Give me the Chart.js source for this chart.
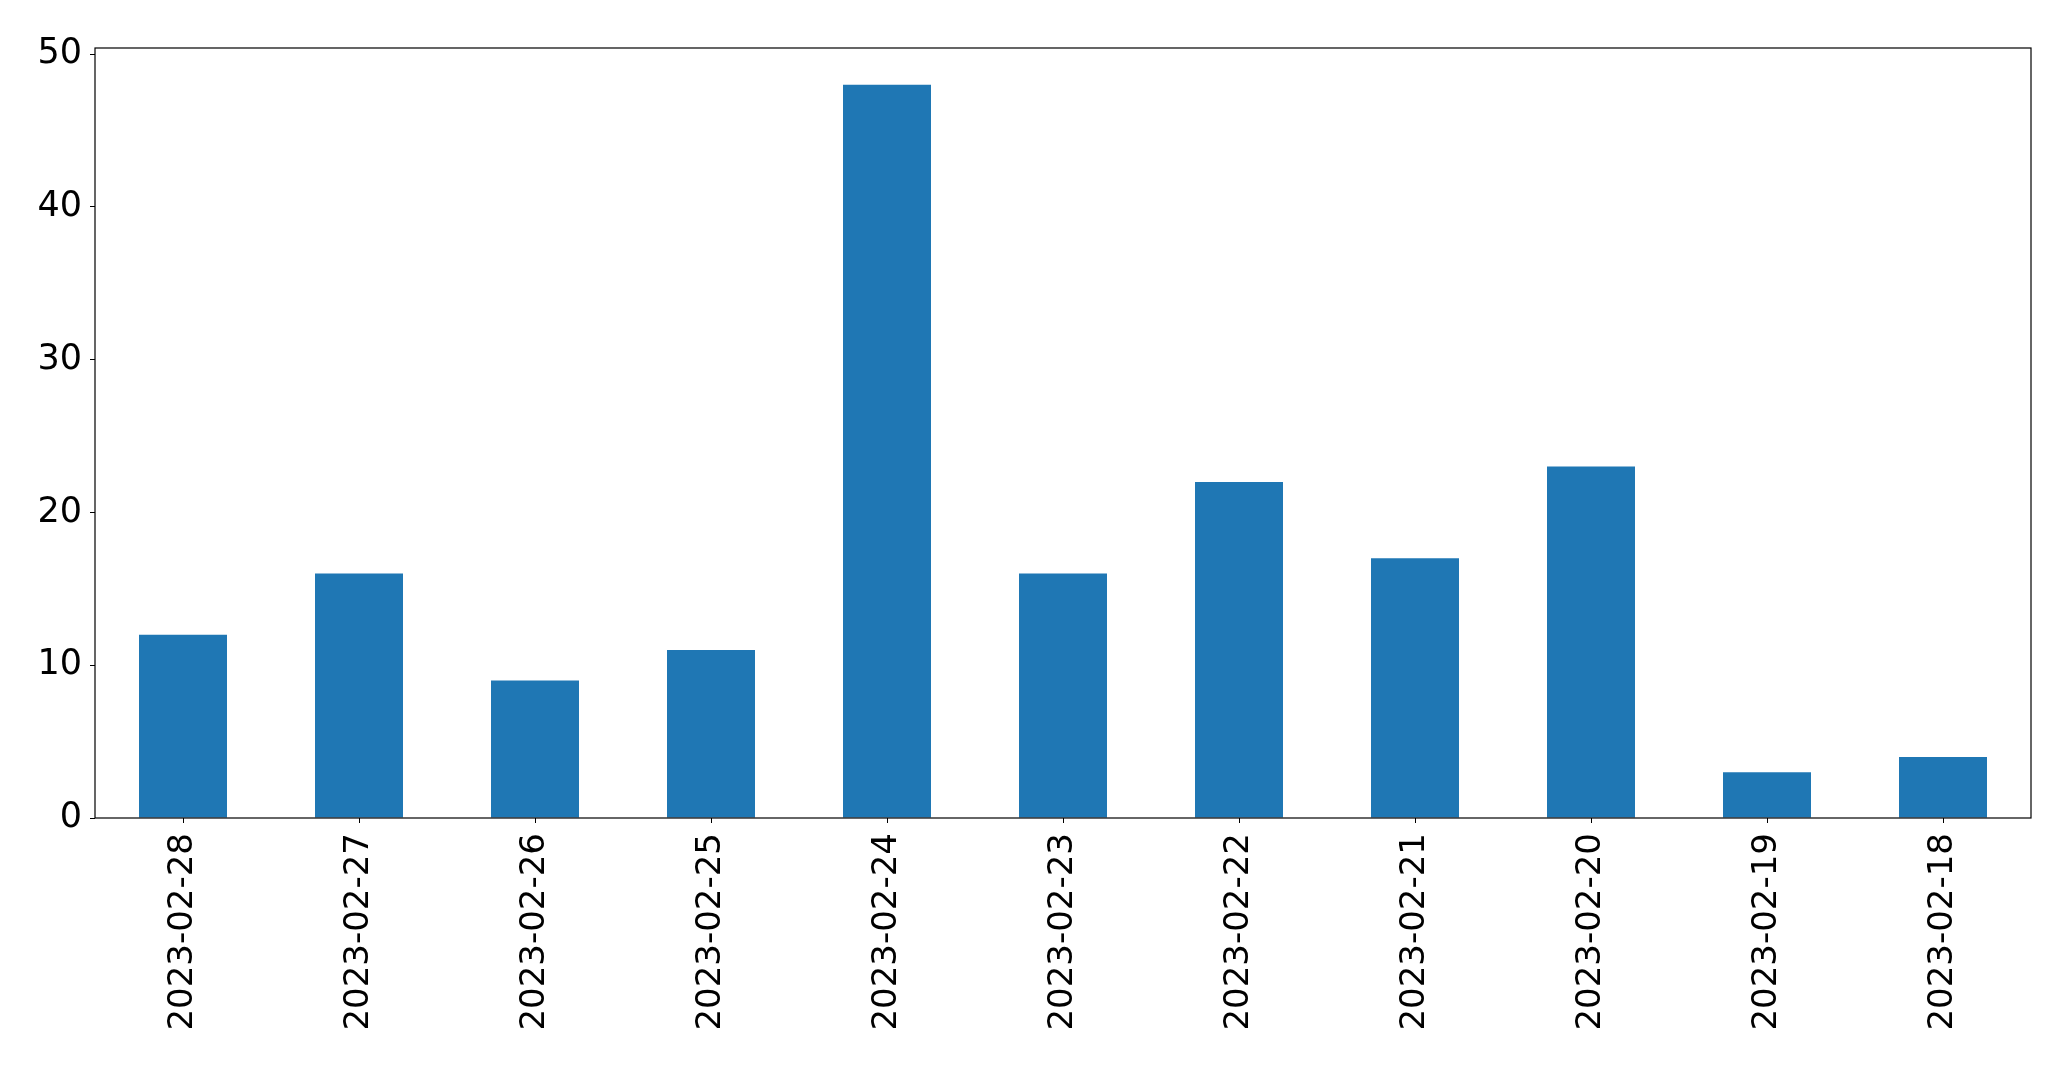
<!DOCTYPE html>
<html lang="en">
<head>
  <meta charset="UTF-8" />
  <title>Daily counts</title>
  <style>
    html, body { margin: 0; padding: 0; background: #fff; }
    canvas { display: block; }
  </style>
</head>
<body>
  <canvas id="chart" width="2071" height="1069"></canvas>
  <script src="https://cdn.jsdelivr.net/npm/chart.js@4/dist/chart.umd.min.js"></script>
  <script>
// data
const dates = ['2023-02-28', '2023-02-27', '2023-02-26', '2023-02-25', '2023-02-24', '2023-02-23',
               '2023-02-22', '2023-02-21', '2023-02-20', '2023-02-19', '2023-02-18']
const counts = [12, 16, 9, 11, 48, 16, 22, 17, 23, 3, 4]
const yTicks = [0, 10, 20, 30, 40, 50]

// box around the plot area (matplotlib style frame)
const frame = {
  id: 'frame',
  afterDraw(chart) {
    const { ctx, chartArea: a } = chart
    ctx.save()
    ctx.strokeStyle = '#000'
    ctx.lineWidth = 1.2
    ctx.strokeRect(a.left, a.top, a.right - a.left, a.bottom - a.top)
    ctx.restore()
  }
}

new Chart(document.getElementById('chart'), {
  type: 'bar',
  data: {
    labels: dates,
    datasets: [{
      data: counts,
      backgroundColor: '#1f77b4',
      borderWidth: 0,
      categoryPercentage: 0.5,
      barPercentage: 1
    }]
  },
  options: {
    responsive: false,
    animation: false,
    layout: { padding: { top: 48, right: 40, left: 0, bottom: 0 } },
    plugins: { legend: { display: false }, tooltip: { enabled: false } },
    scales: {
      x: {
        offset: true,
        grid: { drawOnChartArea: false, drawTicks: true, tickLength: 5, color: '#000', offset: false },
        border: { display: false },
        ticks: { color: '#000', font: { family: 'DejaVu Sans', size: 34 }, minRotation: 90, maxRotation: 90, padding: 10, autoSkip: false },
        afterFit(scale) { scale.height = 251 }
      },
      y: {
        min: 0,
        max: 50.4,
        grid: { drawOnChartArea: false, drawTicks: true, tickLength: 5, color: '#000' },
        border: { display: false },
        ticks: { color: '#000', font: { family: 'DejaVu Sans', size: 35 }, padding: 8 },
        afterBuildTicks(scale) { scale.ticks = yTicks.map(v => ({ value: v })) },
        afterFit(scale) { scale.width = 95 }
      }
    }
  },
  plugins: [frame]
})
  </script>
</body>
</html>
